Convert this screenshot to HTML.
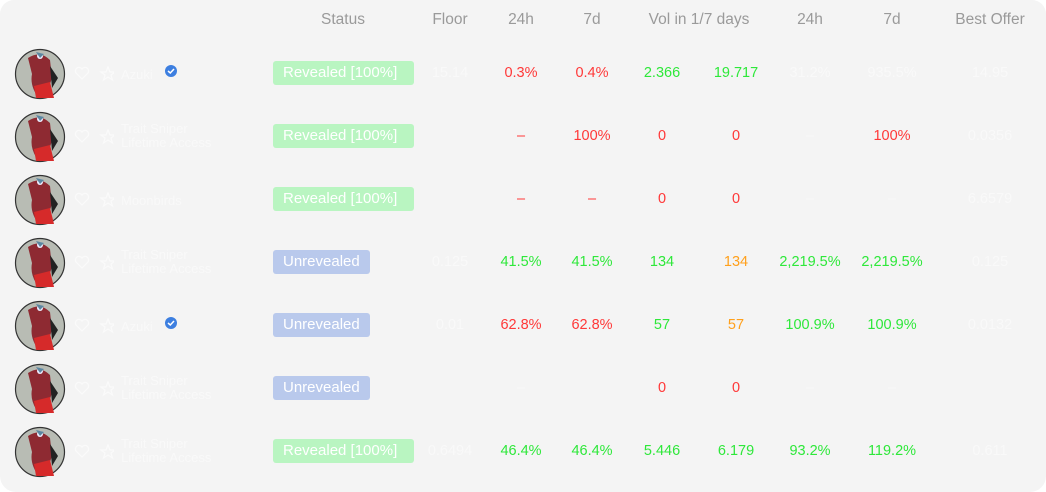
<!DOCTYPE html>
<html><head><meta charset="utf-8"><style>
body{margin:0;background:#fff;width:1046px;height:492px;overflow:hidden;font-family:"Liberation Sans","DejaVu Sans",sans-serif}
#card{position:absolute;left:0;top:0;width:1046px;height:492px;background:#f4f4f4;border-radius:14px 14px 16px 16px}
.h{position:absolute;top:11px;font-size:15.5px;color:#9a9a9a;transform:translateX(-50%);white-space:nowrap}
.c{position:absolute;font-size:14.5px;transform:translate(-50%,-50%);white-space:nowrap}
.r{color:#ff3838}.g{color:#2ee83a}.o{color:#ffa01c}.f{color:#f9f9f9}
.badge{position:absolute;left:273px;height:24px;border-radius:3px;color:#fff;font-size:15px;line-height:24px;padding-left:10px;box-sizing:border-box;white-space:nowrap}
.rev{background:#b9f5c1;width:141px}.unr{background:#b9c9ec;width:97px}
.name{position:absolute;left:121px;font-size:13px;color:#f9f9f9;line-height:14px}
</style></head><body>
<div id="card">
<div class="h" style="left:343px">Status</div>
<div class="h" style="left:450px">Floor</div>
<div class="h" style="left:521px">24h</div>
<div class="h" style="left:592px">7d</div>
<div class="h" style="left:699px">Vol in 1/7 days</div>
<div class="h" style="left:810px">24h</div>
<div class="h" style="left:892px">7d</div>
<div class="h" style="left:990px">Best Offer</div>
<div id="rows"></div>
</div>
<script>
const names=["Azuki","Trait Sniper|Lifetime Access","Moonbirds","Trait Sniper|Lifetime Access","Azuki","Trait Sniper|Lifetime Access","Trait Sniper|Lifetime Access"];
const verified=[1,0,0,0,1,0,0];
const status=["rev","rev","rev","unr","unr","unr","rev"];
const floor=["15.14","","","0.125","0.01","","0.6494"];
const f24=[["0.3%","r"],["–","r"],["–","r"],["41.5%","g"],["62.8%","r"],["–","f"],["46.4%","g"]];
const f7=[["0.4%","r"],["100%","r"],["–","r"],["41.5%","g"],["62.8%","r"],["",""],["46.4%","g"]];
const v1=[["2.366","g"],["0","r"],["0","r"],["134","g"],["57","g"],["0","r"],["5.446","g"]];
const v7=[["19.717","g"],["0","r"],["0","r"],["134","o"],["57","o"],["0","r"],["6.179","g"]];
const c24=[["31.2%","f"],["–","f"],["–","f"],["2,219.5%","g"],["100.9%","g"],["–","f"],["93.2%","g"]];
const c7=[["935.5%","f"],["100%","r"],["–","f"],["2,219.5%","g"],["100.9%","g"],["–","f"],["119.2%","g"]];
const best=["14.95","0.0356","6.6579","0.125","0.0132","","0.611"];
const rows=document.getElementById('rows');
function cell(x,y,t,cls,nm){const d=document.createElement('div');d.className='c '+cls;d.style.left=x+'px';d.style.top=y+'px';d.textContent=t;


rows.appendChild(d);}
names.forEach((n,i)=>{
 const y=73+i*63;
 const av=document.createElementNS('http://www.w3.org/2000/svg','svg');
 av.setAttribute('width','52');av.setAttribute('height','52');av.style.position='absolute';av.style.left='14px';av.style.top=(y-25)+'px';
 av.innerHTML='<circle cx="26" cy="26" r="24.5" fill="#b8bcb4" stroke="#333" stroke-width="1.2"/><path d="M14 10 Q26 2 36 12 L38 30 L34 42 L22 46 Q16 36 18 26 Z" fill="#8e2a32"/><path d="M20 38 L36 34 L40 50 L22 50 Z" fill="#d62a2a"/><circle cx="26" cy="8" r="3" fill="#eef"/><path d="M22 4 L30 6 L26 10Z" fill="#5b86a0"/><path d="M36 18 L44 30 L38 40Z" fill="#222"/>';
 
 
 rows.appendChild(av);
 const ic=document.createElementNS('http://www.w3.org/2000/svg','svg');
 ic.setAttribute('width','40');ic.setAttribute('height','18');ic.style.position='absolute';ic.style.left='74px';ic.style.top=(y-8)+'px';
 ic.innerHTML='<path d="M8 14 L2 8 A3.2 3.2 0 0 1 8 4 A3.2 3.2 0 0 1 14 8Z" fill="none" stroke="#fafafa" stroke-width="1.3"/><path d="M34 2 L36 7 L41 7 L37 10 L38.5 15 L34 12 L29.5 15 L31 10 L27 7 L32 7Z" fill="none" stroke="#fafafa" stroke-width="1.3"/>';
 
 
 rows.appendChild(ic);
 const nm=document.createElement('div');nm.className='name';const parts=n.split('|');
 nm.innerHTML=parts.join('<br>');nm.style.top=(y-(parts.length==2?14:5))+'px';
 
 
 rows.appendChild(nm);
 if(verified[i]){const v=document.createElementNS('http://www.w3.org/2000/svg','svg');v.setAttribute('width','14');v.setAttribute('height','14');v.style.position='absolute';v.style.left='164px';v.style.top=(y-9)+'px';
 v.innerHTML='<circle cx="7" cy="7" r="6" fill="#3d7fe0"/><path d="M4 7 L6.3 9 L10 5" stroke="#fff" stroke-width="1.5" fill="none"/>';
 
 
 rows.appendChild(v);}
 const b=document.createElement('div');b.className='badge '+status[i];b.style.top=(y-12)+'px';b.textContent=status[i]=='rev'?'Revealed [100%]':'Unrevealed';
 
 
 rows.appendChild(b);
 cell(450,y,floor[i],'f','floor-price');
 cell(521,y,f24[i][0],f24[i][1],'floor-change-24h');
 cell(592,y,f7[i][0],f7[i][1],'floor-change-7d');
 cell(662,y,v1[i][0],v1[i][1],'volume-1d');
 cell(736,y,v7[i][0],v7[i][1],'volume-7d');
 cell(810,y,c24[i][0],c24[i][1],'volume-change-24h');
 cell(892,y,c7[i][0],c7[i][1],'volume-change-7d');
 cell(990,y,best[i],'f','best-offer');
});
</script>
</body></html>
